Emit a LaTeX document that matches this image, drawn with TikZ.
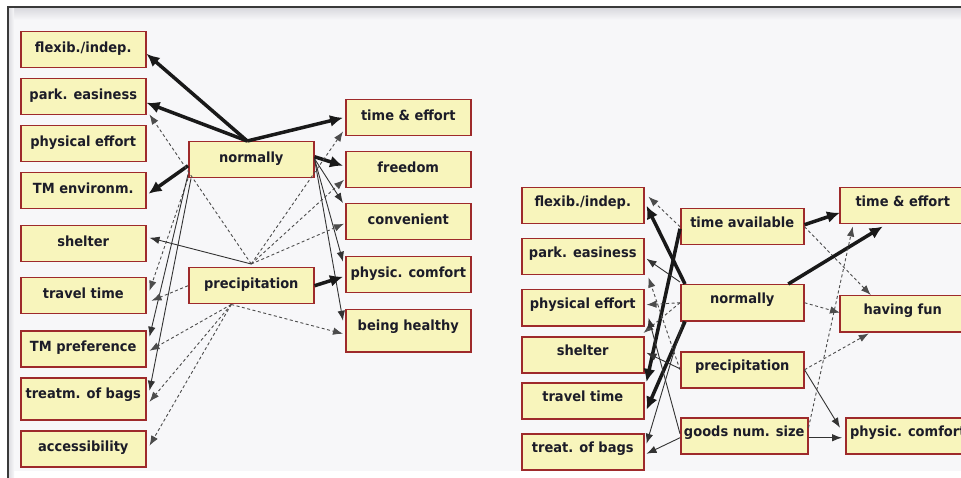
\documentclass[tikz,border=0pt]{standalone}
\usepackage{fontspec}
\setmainfont{DejaVu Sans}[FakeStretch=0.93]
\usetikzlibrary{arrows.meta}
\definecolor{boxfill}{HTML}{F8F5BC}
\definecolor{boxline}{HTML}{9E2A2B}
\definecolor{labelink}{HTML}{1C1C28}
\definecolor{panel}{HTML}{F7F7F9}
\definecolor{panelshade}{HTML}{D9D9DE}
\definecolor{frameline}{HTML}{3A3A3A}
\tikzset{
  box/.style={draw=boxline, line width=1.5pt, fill=boxfill, anchor=north west,
    inner xsep=0pt, inner ysep=0pt, text=labelink,
    font=\fontsize{14}{16}\selectfont\bfseries},
  lbox/.style={box, minimum width=125pt, text height=21pt, text depth=15pt},
  lboxtall/.style={lbox, text depth=21pt},
  rbox/.style={box, minimum width=#1, text height=19pt, text depth=17pt},
  rbox/.default=122pt,
  thinarr/.style={draw=black!80, line width=0.9pt, -{Latex[length=10pt,width=7.5pt]}},
  dasharr/.style={draw=black!70, line width=0.9pt, dash pattern=on 3pt off 2.5pt,
    -{Latex[length=10pt,width=7.5pt]}},
  thickarr/.style={draw=black!90, line width=3.5pt, -{Latex[length=13pt,width=12pt]}},
}
\begin{document}
\begin{tikzpicture}[x=1pt, y=-1pt]
  \clip (0,0) rectangle (961,478);
  % page and slide panel
  \fill[white] (0,0) rectangle (961,478);
  \fill[panel] (8,7) rectangle (961,471);
  \shade[top color=panelshade, bottom color=panel] (8,8) rectangle (961,20);
  \shade[left color=panelshade, right color=panel] (8,8) rectangle (14,478);
  \draw[frameline, line width=2pt] (8,478) -- (8,7) -- (961,7);

  % ---------- left network ----------
  \node[lbox] (lflex) at (20,31)  {flexib./indep.};
  \node[lbox] (lpark) at (20,78)  {park. easiness};
  \node[lbox] (lphys) at (20,125) {physical effort};
  \node[lbox] (ltme)  at (20,172) {TM environm.};
  \node[lbox] (lshel) at (20,225) {shelter};
  \node[lbox] (ltrav) at (20,277) {travel time};
  \node[lbox] (ltmp)  at (20,330) {TM preference};
  \node[lboxtall] (lbags) at (20,377) {treatm. of bags};
  \node[lbox] (lacc)  at (20,430) {accessibility};

  \node[lbox] (lnorm) at (188,141) {normally};
  \node[lbox] (lprec) at (188,267) {precipitation};

  \node[lbox] (ltime) at (345,99)  {time \& effort};
  \node[lbox] (lfree) at (345,151) {freedom};
  \node[lbox] (lconv) at (345,203) {convenient};
  \node[lbox] (lcomf) at (345,256) {physic. comfort};
  \node[lboxtall] (lheal) at (345,309) {being healthy};

  % normally
  \draw[thickarr] ([xshift=-4pt]lnorm.north) -- ([yshift=-4pt]lflex.east);
  \draw[thickarr] ([xshift=-4pt]lnorm.north) -- ([yshift=-6pt]lpark.east);
  \draw[thickarr] ([xshift=-4pt]lnorm.north) -- ([xshift=-2pt]ltime.west);
  \draw[thickarr] ([yshift=-6pt]lnorm.west) -- ([xshift=2pt,yshift=-3pt]ltme.east);
  \draw[thickarr] ([yshift=3pt]lnorm.east) -- ([xshift=-2pt,yshift=4pt]lfree.west);
  \draw[thinarr] ([yshift=1pt]lnorm.east) -- ([xshift=-2pt]lconv.north west);
  \draw[thinarr] ([yshift=1pt]lnorm.east) -- ([xshift=-2pt,yshift=13pt]lcomf.west);
  \draw[thinarr] ([yshift=1pt]lnorm.east) -- ([xshift=-2pt,yshift=10pt]lheal.west);
  \draw[dasharr] (lnorm.south west) -- ([xshift=3pt,yshift=5pt]ltrav.east);
  \draw[thinarr] ([yshift=4pt]lnorm.south west) -- ([xshift=3pt,yshift=12pt]ltmp.east);
  \draw[thinarr] ([xshift=3pt]lnorm.south west) -- ([xshift=3pt,yshift=8pt]lbags.east);

  % precipitation
  \draw[dasharr] ([yshift=3pt]lprec.north) -- ([xshift=-2pt,yshift=5pt]ltime.south west);
  \draw[dasharr] ([yshift=3pt]lprec.north) -- ([xshift=-1pt,yshift=-10pt]lfree.west);
  \draw[dasharr] ([yshift=3pt]lprec.north) -- ([xshift=-1pt,yshift=-2pt]lconv.west);
  \draw[dasharr] ([yshift=3pt]lprec.north) -- ([xshift=3pt,yshift=1pt]lpark.south east);
  \draw[thinarr] ([yshift=3pt]lprec.north) -- ([xshift=3pt,yshift=6pt]lshel.east);
  \draw[thickarr] (lprec.east) -- ([xshift=-2pt,yshift=-2pt]lcomf.west);
  \draw[dasharr] (lprec.west) -- ([xshift=5pt,yshift=-5pt]ltrav.east);
  \draw[dasharr] ([xshift=-20pt]lprec.south) -- ([xshift=-2pt,yshift=-3pt]lheal.west);
  \draw[dasharr] ([xshift=-20pt]lprec.south) -- ([xshift=3pt,yshift=-2pt]ltmp.east);
  \draw[dasharr] ([xshift=-20pt]lprec.south) -- ([xshift=3pt,yshift=-3pt]lbags.east);
  \draw[dasharr] ([xshift=-20pt]lprec.south) -- ([xshift=3pt,yshift=3pt]lacc.east);

  % ---------- right network ----------
  \node[rbox] (rflex) at (521,187) {flexib./indep.};
  \node[rbox] (rpark) at (521,238) {park. easiness};
  \node[rbox] (rphys) at (521,289) {physical effort};
  \node[rbox] (rshel) at (521,336) {shelter};
  \node[rbox] (rtrav) at (521,382) {travel time};
  \node[rbox] (rbags) at (521,433) {treat. of bags};

  \node[rbox=123pt] (rtavail) at (680,208) {time available};
  \node[rbox=123pt] (rnorm)   at (680,284) {normally};
  \node[rbox=123pt] (rprec)   at (680,351) {precipitation};
  \node[rbox=127pt] (rgoods)  at (680,417) {goods num. size};

  \node[rbox=126pt] (rtime) at (839,187) {time \& effort};
  \node[rbox=126pt] (rfun)  at (839,295) {having fun};
  \node[rbox=124pt] (rcomf) at (845,417) {physic. comfort};

  % time available
  \draw[thickarr] ([yshift=2pt]rtavail.east) -- ([xshift=1pt,yshift=-7pt]rtime.west);
  \draw[dasharr] (rtavail.east) -- ([xshift=-32pt]rfun.north);
  \draw[dasharr] (rtavail.west) -- ([xshift=4pt,yshift=9pt]rflex.east);
  \draw[thickarr] ([yshift=-2pt]rtavail.west) -- ([xshift=2pt]rtrav.north east);

  % normally
  \draw[thickarr] ([xshift=5pt]rnorm.north west) -- ([xshift=2pt]rflex.east);
  \draw[thinarr] ([yshift=2pt]rnorm.north west) -- ([xshift=2pt,yshift=-2pt]rpark.east);
  \draw[dasharr] (rnorm.west) -- ([xshift=2pt,yshift=3pt]rphys.east);
  \draw[dasharr] (rnorm.west) -- ([xshift=-1pt,yshift=3pt]rshel.north east);
  \draw[thickarr] ([xshift=5pt]rnorm.south west) -- ([xshift=2pt,yshift=-9pt]rtrav.east);
  \draw[thinarr] ([xshift=3pt]rnorm.south west) -- ([xshift=2pt,yshift=8pt]rbags.east);
  \draw[thickarr] ([xshift=46pt]rnorm.north) -- ([xshift=-20pt,yshift=-2pt]rtime.south);
  \draw[dasharr] (rnorm.east) -- ([xshift=1pt,yshift=1pt]rfun.west);

  % precipitation
  \draw[dasharr] (rprec.west) -- ([xshift=4pt,yshift=-2pt]rpark.south east);
  \draw[thinarr] ([yshift=1pt]rprec.west) -- ([xshift=2pt,yshift=2pt]rshel.east);
  \draw[dasharr] (rprec.east) -- ([xshift=-34pt,yshift=-1pt]rfun.south);
  \draw[thinarr] (rprec.east) -- ([xshift=-5pt,yshift=8pt]rcomf.west);

  % goods num. size
  \draw[thinarr] ([yshift=2pt]rgoods.west) -- ([xshift=4pt,yshift=-10pt]rphys.east);
  \draw[thinarr] ([yshift=-2pt]rgoods.west) -- ([xshift=2pt,yshift=-2pt]rbags.east);
  \draw[dasharr] ([yshift=8pt]rgoods.east) -- ([xshift=-50pt,yshift=-2pt]rtime.south);
  \draw[thinarr] ([yshift=-2pt]rgoods.east) -- ([xshift=-3pt,yshift=-2pt]rcomf.west);
\end{tikzpicture}
\end{document}
